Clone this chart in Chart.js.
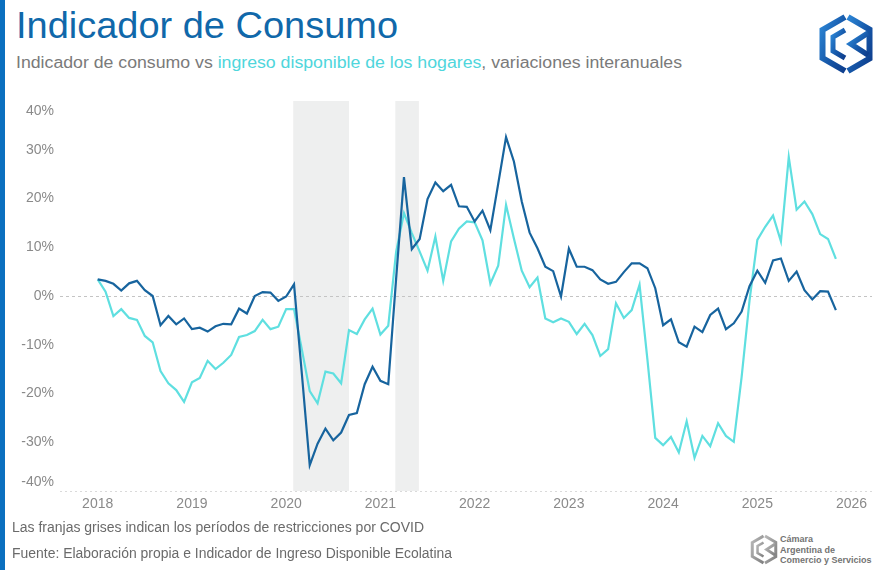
<!DOCTYPE html>
<html><head><meta charset="utf-8">
<script src="https://cdn.jsdelivr.net/npm/chart.js@4.4.1/dist/chart.umd.min.js"></script>
<style>
html,body{margin:0;padding:0;background:#fff;}
body{width:886px;height:570px;position:relative;overflow:hidden;font-family:"Liberation Sans",Arial,sans-serif;}
#bar{position:absolute;left:0;top:0;width:5px;height:570px;background:#0b70bf;}
.t{position:absolute;white-space:nowrap;transform-origin:0 50%;}
#title{left:16px;top:7px;font-size:37px;line-height:37px;color:#1068aa;}
#sub{left:16px;top:54px;font-size:16px;line-height:18px;color:#7a7a7a;}
#sub span{color:#4fd6dc;}
#note{left:12px;top:519px;font-size:14px;line-height:16px;color:#6a6a6a;}
#src{left:12px;top:545px;font-size:14px;line-height:16px;color:#6a6a6a;}
#wrap{position:absolute;left:0;top:90px;width:886px;height:430px;}
#logo{position:absolute;left:818px;top:13px;width:56px;height:62px;}
#logo2{position:absolute;left:750px;top:534px;width:28px;height:31px;}
#logo2txt{position:absolute;left:780px;top:534px;font-size:9px;line-height:10.5px;font-weight:bold;color:#737373;}
</style></head>
<body>
<div id="bar"></div>
<div class="t" id="title" data-w="382">Indicador de Consumo</div>
<div class="t" id="sub" data-w="666">Indicador de consumo vs <span>ingreso disponible de los hogares</span>, variaciones interanuales</div>
<svg id="logo" viewBox="0 0 56 62">
<defs><linearGradient id="g1" x1="0" y1="0" x2="1" y2="1"><stop offset="0" stop-color="#2c86d6"/><stop offset="0.55" stop-color="#1657a8"/><stop offset="1" stop-color="#0e3d8c"/></linearGradient></defs>
<g fill="none" stroke="url(#g1)" stroke-linejoin="miter">
<path d="M27,4 L4.5,17 L4.5,45 L27,58" stroke-width="6"/>
<path d="M27,17 L15,24 L15,38 L27,45" stroke-width="5"/>
<path d="M30,4 L51.5,16.5 L51.5,45.5 L30,58" stroke-width="6"/>
<path d="M50,20 L33,31 L50,42" stroke-width="5.5"/>
</g>
</svg>
<div id="wrap"><canvas id="c"></canvas></div>
<div class="t" id="note" data-w="412">Las franjas grises indican los períodos de restricciones por COVID</div>
<div class="t" id="src" data-w="440">Fuente: Elaboración propia e Indicador de Ingreso Disponible Ecolatina</div>
<svg id="logo2" viewBox="0 0 56 62">
<defs><linearGradient id="g2" x1="0" y1="0" x2="1" y2="1"><stop offset="0" stop-color="#b8b8b8"/><stop offset="1" stop-color="#7f7f7f"/></linearGradient></defs>
<g fill="none" stroke="url(#g2)" stroke-linejoin="miter">
<path d="M27,4 L4.5,17 L4.5,45 L27,58" stroke-width="6"/>
<path d="M27,17 L15,24 L15,38 L27,45" stroke-width="5"/>
<path d="M30,4 L51.5,16.5 L51.5,45.5 L30,58" stroke-width="6"/>
<path d="M50,20 L33,31 L50,42" stroke-width="5.5"/>
</g>
</svg>
<div id="logo2txt">Cámara<br>Argentina de<br>Comercio y Servicios</div>
<script>
// Month offsets from January 2018 (0 = Jan 2018)
const yearLabels = [2018, 2019, 2020, 2021, 2022, 2023, 2024, 2025, 2026];
const yTickValues = [-40, -30, -20, -10, 0, 10, 20, 30, 40];
// Indicador de consumo (var. interanual, %), Jan 2018 .. Nov 2025
const consumo = [
  3.4, 3.1, 2.5, 1.1, 2.6, 3.1, 1.2, 0.0, -6.0, -4.1, -5.8, -4.6,
  -6.8, -6.5, -7.3, -6.2, -5.7, -5.8, -2.6, -3.6, 0.0, 0.8, 0.7, -1.0,
  -0.1, 2.4, -16.0, -34.7, -30.3, -27.2, -29.6, -28.0, -24.4, -24.0, -18.1, -14.5,
  -17.4, -18.1, 3.5, 24.4, 9.6, 11.7, 19.9, 23.3, 21.5, 22.8, 18.4, 18.3,
  15.3, 17.5, 13.5, 23.0, 32.6, 27.6, 19.4, 13.0, 9.8, 6.0, 5.1, -0.1,
  9.7, 6.0, 6.0, 5.3, 3.4, 2.5, 2.9, 4.9, 6.7, 6.7, 5.7, 1.6,
  -6.0, -4.8, -9.5, -10.4, -6.3, -7.4, -3.9, -2.6, -6.8, -5.6, -3.2, 2.0,
  5.2, 2.7, 7.3, 7.7, 3.1, 5.0, 1.2, -0.7, 1.0, 0.9, -2.9
];
// Ingreso disponible de los hogares (var. interanual, %)
const ingreso = [
  3.4, 0.9, -4.1, -2.7, -4.5, -4.9, -8.2, -9.5, -15.4, -17.9, -19.3, -21.7,
  -17.7, -16.8, -13.3, -15.0, -13.7, -12.1, -8.4, -8.0, -7.2, -4.9, -6.8, -6.3,
  -2.7, -2.7, -11.0, -19.5, -22.0, -15.5, -15.9, -17.9, -7.0, -7.8, -4.8, -2.6,
  -7.9, -6.1, 9.0, 17.0, 12.9, 9.1, 5.2, 12.2, 3.1, 11.2, 13.8, 15.3,
  15.1, 11.4, 2.5, 6.2, 18.7, 11.8, 5.2, 1.8, 3.8, -4.6, -5.4, -4.6,
  -5.3, -7.8, -5.7, -8.0, -12.3, -10.9, -1.5, -4.5, -2.9, 2.3, -13.0, -29.1,
  -30.6, -28.9, -32.1, -25.7, -33.2, -28.7, -30.8, -26.1, -28.7, -29.9, -16.6, -1.0,
  11.5, 14.2, 16.5, 11.2, 28.5, 17.7, 19.4, 16.8, 12.7, 11.7, 7.6
];
// COVID restriction periods, as month offsets from Jan 2018
const covidStart = [24.9, 37.9];
const covidEnd = [32.0, 40.9];

function fitTexts(){
  document.querySelectorAll('[data-w]').forEach(el=>{
    el.style.transform='none';
    const w = el.getBoundingClientRect().width;
    el.style.transform='scaleX(' + (parseFloat(el.dataset.w)/w) + ')';
  });
}
fitTexts();
if (document.fonts && document.fonts.ready) document.fonts.ready.then(fitTexts);

const bandsPlugin = {
  id: 'bands',
  beforeDraw(chart){
    const {ctx, chartArea:a, scales:{x}} = chart;
    ctx.save();
    ctx.fillStyle = '#eeefef';
    covidStart.forEach((s,i)=>{
      const x0 = x.getPixelForValue(s), x1 = x.getPixelForValue(covidEnd[i]);
      ctx.fillRect(x0, a.top, x1-x0, a.bottom-a.top);
    });
    ctx.strokeStyle = '#dadada';
    ctx.lineWidth = 1;
    ctx.setLineDash([2,3]);
    ctx.beginPath();
    ctx.moveTo(a.left, a.bottom + 0.5);
    ctx.lineTo(a.right, a.bottom + 0.5);
    ctx.stroke();
    ctx.restore();
  },
  afterDraw(chart){
    const {ctx, chartArea:a, scales:{y}} = chart;
    ctx.save();
    ctx.font = '14px "Liberation Sans", Arial, sans-serif';
    ctx.fillStyle = '#8a8a8a';
    ctx.textAlign = 'right';
    ctx.textBaseline = 'middle';
    y.ticks.forEach(t=>{
      let p = y.getPixelForValue(t.value);
      p = Math.min(Math.max(p, a.top + 10), a.bottom - 9);
      ctx.fillText(t.value + '%', a.left - 6, p);
    });
    ctx.restore();
  }
};

new Chart(document.getElementById('c'), {
  type: 'line',
  data: {
    datasets: [
      { label: 'Indicador de consumo', data: consumo.map((v,i)=>({x:i, y:v})),
        borderColor: '#17649e', borderWidth: 2.2, pointRadius: 0, tension: 0, fill: false },
      { label: 'Ingreso disponible de los hogares', data: ingreso.map((v,i)=>({x:i, y:v})),
        borderColor: '#5fdfe0', borderWidth: 2.2, pointRadius: 0, tension: 0, fill: false }
    ]
  },
  options: {
    responsive: true, maintainAspectRatio: false, animation: false,
    layout: { padding: { top: 11, right: 14, left: 0, bottom: 0 } },
    plugins: { legend: { display: false }, tooltip: { enabled: false } },
    scales: {
      x: {
        type: 'linear', min: -4.8, max: 98.6,
        afterBuildTicks: s => { s.ticks = yearLabels.map(yr => ({ value: (yr - 2018) * 12 })); },
        afterFit: s => { s.height = 29; },
        grid: { display: false, drawTicks: false },
        border: { display: false },
        ticks: { autoSkip: false, maxRotation: 0, padding: 5, color: '#8a8a8a',
          font: { size: 14, family: '"Liberation Sans", Arial, sans-serif' },
          callback: v => String(2018 + v / 12) }
      },
      y: {
        min: -40, max: 40,
        afterBuildTicks: s => { s.ticks = yTickValues.map(v => ({ value: v })); },
        afterFit: s => { s.width = 60; },
        grid: { drawTicks: false, lineWidth: 1,
          color: c => (c.tick && c.tick.value === 0) ? '#c4c4c4' : 'rgba(0,0,0,0)' },
        border: { display: false, dash: [3, 3] },
        ticks: { display: false }
      }
    }
  },
  plugins: [bandsPlugin]
});
</script>
</body></html>
